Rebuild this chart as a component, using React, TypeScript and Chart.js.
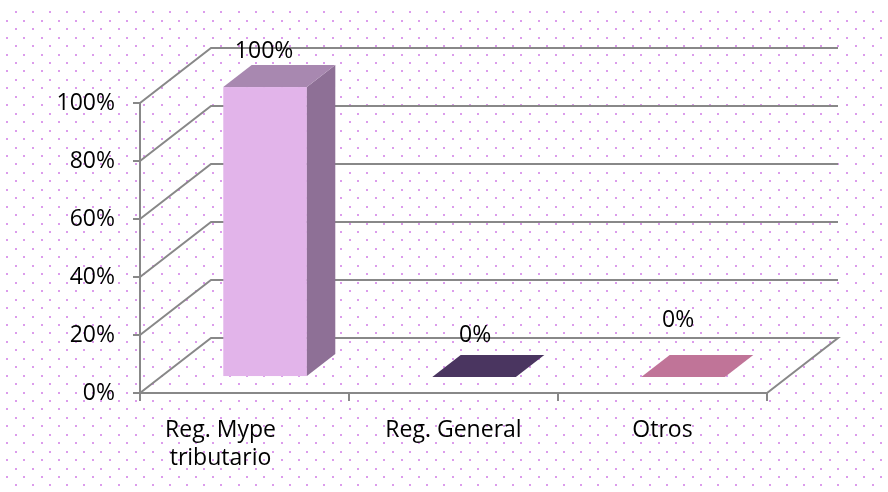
import React, { useEffect, useRef } from "react";
import { Chart, registerables } from "chart.js";

Chart.register(...registerables);

// ---- data ----
const categories: string[][] = [["Reg. Mype", "tributario"], ["Reg. General"], ["Otros"]];
const values: number[] = [1, 0, 0];
const yTicks: number[] = [0, 0.2, 0.4, 0.6, 0.8, 1];

// ---- styles ----
const frontColors = ["#e2b4ea", "#5a4470", "#d088aa"];
const topColors = ["#a888b0", "#4a3560", "#c07498"];
const sideColors = ["#8e7096", "#3e2c52", "#a86284"];
const labelOffsets = [[-1, -36], [1, -42], [-5, -57]];
const xLabelShift = [-24, 0, 0];
const DEPTH = { dx: 71, dy: -55 };
const FRONT = 0.29;
const BACK = 0.69;
const GRID = "#888888";
const FONT = '"Open Sans", sans-serif';
const FONT_SIZE = 23;

const pct = (v: number) => Math.round(v * 100) + "%";

const bgPlugin = {
  id: "dotsBg",
  beforeDraw(chart: any) {
    const { ctx, width, height } = chart;
    ctx.save();
    ctx.fillStyle = "#ffffff";
    ctx.fillRect(0, 0, width, height);
    ctx.fillStyle = "#dc9cec";
    for (let r = 0; ; r++) {
      const y = 12.3 + r * 8.45;
      if (y > height - 2) break;
      const x0 = r % 2 === 0 ? 15.7 : 7.3;
      for (let x = x0; x < width - 1; x += 17.14) {
        ctx.fillRect(Math.round(x) - 1, Math.round(y) - 1, 2, 2);
      }
    }
    ctx.restore();
  },
};

const wallsPlugin = {
  id: "walls3d",
  beforeDatasetsDraw(chart: any) {
    const { ctx, chartArea: a, scales } = chart;
    const y = scales.y;
    ctx.save();
    ctx.strokeStyle = GRID;
    ctx.lineWidth = 2;
    ctx.lineJoin = "miter";
    for (const v of yTicks) {
      const py = y.getPixelForValue(v);
      ctx.beginPath();
      ctx.moveTo(a.left, py);
      ctx.lineTo(a.left + DEPTH.dx, py + DEPTH.dy);
      ctx.lineTo(a.right + DEPTH.dx, py + DEPTH.dy);
      if (v === 0) ctx.lineTo(a.right, py);
      ctx.stroke();
    }
    ctx.restore();
  },
  afterDatasetsDraw(chart: any) {
    const { ctx, chartArea: a, scales } = chart;
    const meta = chart.getDatasetMeta(0);
    const fx = DEPTH.dx * FRONT, fy = DEPTH.dy * FRONT;
    const bx = DEPTH.dx * BACK, by = DEPTH.dy * BACK;
    const poly = (pts: number[][]) => {
      ctx.beginPath();
      ctx.moveTo(pts[0][0], pts[0][1]);
      for (let k = 1; k < pts.length; k++) ctx.lineTo(pts[k][0], pts[k][1]);
      ctx.closePath();
      ctx.fill();
    };
    ctx.save();
    meta.data.forEach((bar: any, i: number) => {
      const p = bar.getProps(["x", "y", "base", "width"], true);
      const l = p.x - p.width / 2;
      const r = p.x + p.width / 2;
      const top = p.y;
      const base = p.base;
      if (base - top > 0.5) {
        ctx.fillStyle = frontColors[i];
        ctx.fillRect(l + fx, top + fy, p.width, base - top);
        ctx.fillStyle = sideColors[i];
        poly([[r + fx, top + fy], [r + bx, top + by], [r + bx, base + by], [r + fx, base + fy]]);
      }
      ctx.fillStyle = topColors[i];
      poly([[l + fx, top + fy], [r + fx, top + fy], [r + bx, top + by], [l + bx, top + by]]);

      // value label
      ctx.fillStyle = "#000";
      ctx.font = `${FONT_SIZE}px ${FONT}`;
      ctx.textAlign = "center";
      ctx.textBaseline = "middle";
      ctx.fillText(pct(values[i]), p.x + fx + labelOffsets[i][0], top + fy + labelOffsets[i][1]);
    });

    // category labels
    const x = scales.x;
    ctx.fillStyle = "#000";
    ctx.font = `${FONT_SIZE}px ${FONT}`;
    ctx.textAlign = "center";
    ctx.textBaseline = "alphabetic";
    categories.forEach((lines, i) => {
      const cx = x.getPixelForValue(i) + xLabelShift[i];
      lines.forEach((t, j) => ctx.fillText(t, cx, a.bottom + 44 + j * 28));
    });
    ctx.restore();
  },
};

export default function App() {
  const ref = useRef<HTMLCanvasElement | null>(null);
  useEffect(() => {
    if (!ref.current) return;
    const chart = new Chart(ref.current, {
      type: "bar",
      data: {
        labels: categories.map((c) => c.join(" ")),
        datasets: [
          {
            data: values,
            backgroundColor: "rgba(0,0,0,0)",
            borderWidth: 0,
            barPercentage: 0.4,
            categoryPercentage: 1,
          },
        ],
      },
      options: {
        animation: false,
        responsive: false,
        maintainAspectRatio: false,
        layout: { padding: { left: 0, top: 103, right: 121, bottom: 0 } },
        plugins: { legend: { display: false }, tooltip: { enabled: false } },
        scales: {
          x: {
            type: "category",
            offset: true,
            grid: { offset: true, drawOnChartArea: false, drawTicks: true, tickLength: 8, color: GRID, lineWidth: 2 },
            border: { display: true, color: GRID, width: 2 },
            ticks: { display: false },
            afterFit(s: any) { s.height = 99; },
          },
          y: {
            min: 0,
            max: 1,
            grid: { drawOnChartArea: false, drawTicks: true, tickLength: 7, color: GRID, lineWidth: 2 },
            border: { display: true, color: GRID, width: 2 },
            ticks: {
              stepSize: 0.2,
              color: "#000",
              padding: 18,
              font: { size: FONT_SIZE, family: FONT },
              callback: (v: any) => pct(Number(v)),
            },
            afterFit(s: any) { s.width = 140; },
          },
        },
      },
      plugins: [bgPlugin, wallsPlugin],
    });
    return () => chart.destroy();
  }, []);
  return (
    <div style={{ position: "fixed", left: 0, top: 0, width: 888, height: 492 }}>
      <canvas ref={ref} width={888} height={492} style={{ display: "block" }} />
    </div>
  );
}
